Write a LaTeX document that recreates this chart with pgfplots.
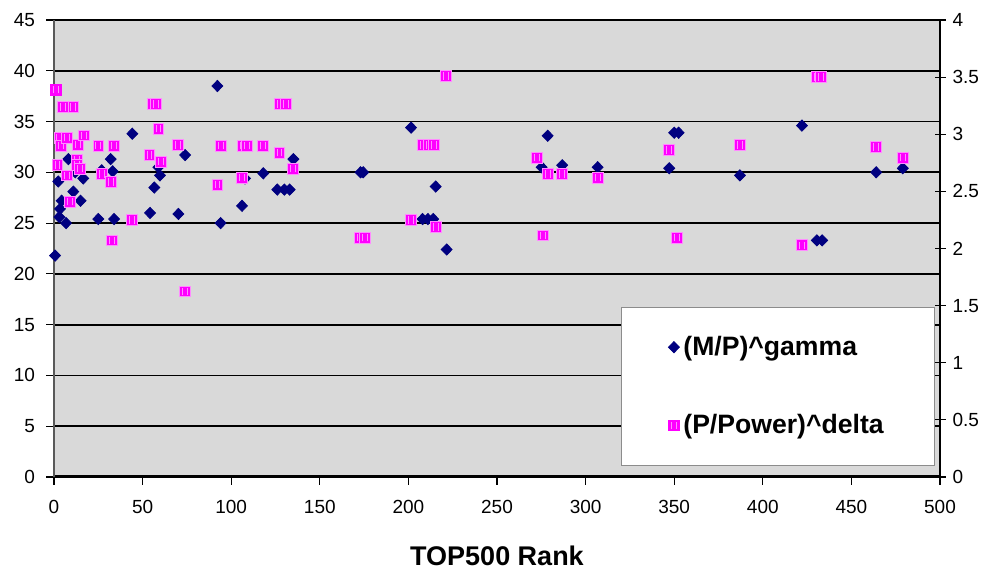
\documentclass[border=0pt]{standalone}
\usepackage{pgfplots}
\pgfplotsset{compat=1.18}
\usepackage{fontspec}
\setmainfont{Liberation Sans}

\definecolor{plotbg}{HTML}{D9D9D9}
\definecolor{navy}{HTML}{000080}
\definecolor{mag}{HTML}{FF00FF}
\colorlet{magin}{mag!45!white}

% excel-like patterned square
\pgfdeclareplotmark{xlsq}{%
  \pgfpathrectangle{\pgfqpoint{-\pgfplotmarksize}{-\pgfplotmarksize}}{\pgfqpoint{2\pgfplotmarksize}{2\pgfplotmarksize}}%
  \pgfusepathqfillstroke
  \pgfsetstrokecolor{magin}%
  \pgfsetlinewidth{0.4pt}%
  \pgfpathmoveto{\pgfqpoint{-0.45\pgfplotmarksize}{-0.7\pgfplotmarksize}}%
  \pgfpathlineto{\pgfqpoint{-0.45\pgfplotmarksize}{0.7\pgfplotmarksize}}%
  \pgfpathmoveto{\pgfqpoint{0.45\pgfplotmarksize}{-0.7\pgfplotmarksize}}%
  \pgfpathlineto{\pgfqpoint{0.45\pgfplotmarksize}{0.7\pgfplotmarksize}}%
  \pgfusepathqstroke
}

\begin{document}
\begin{tikzpicture}
\pgfplotsset{
  common/.style={
    width=443pt, height=228.5pt, scale only axis,
    xmin=0, xmax=500,
    tick label style={font=\fontsize{9.5}{11}\selectfont},
    /pgf/number format/assume math mode=true,
  },
  gam/.style={only marks, mark=diamond*, mark size=2.8pt, mark options={fill=navy, draw=navy, xscale=1.3}},
  del/.style={only marks, mark=xlsq, mark size=2.7pt, mark options={fill=mag, draw=mag}},
}
\begin{axis}[common,
  ymin=0, ymax=45, ytick={0,5,...,45},
  xtick={0,50,...,500},
  axis background/.style={fill=plotbg, draw=black!65, line width=1pt},
  ymajorgrids, grid style={black, line width=0.9pt},
  axis x line*=bottom, axis y line*=left,
  x axis line style={-, black, line width=1.5pt},
  y axis line style={-, black!65, line width=1pt},
  tick align=outside, major tick length=4pt,
  tick style={black, line width=0.6pt},
  yticklabel style={xshift=-2pt},
  xticklabel style={yshift=-4pt},
  xlabel={TOP500 Rank},
  xlabel style={font=\bfseries\fontsize{13.5}{16}\selectfont, at={(axis description cs:0.5,0)}, anchor=north, yshift=-31pt},
]
\addplot[gam] coordinates {
(0.6,21.8) (2.4,29.1) (3,25.6) (3.4,26.4) (4.3,27.2) (6.8,25.0) (8.1,31.3)
(10.9,28.1) (12,30.0) (15,27.2) (16.5,29.4) (25,25.4) (26.9,30.2) (32,31.3)
(33.1,30.1) (33.9,25.4) (44.2,33.8) (54.2,26.0) (56.6,28.5) (58.9,30.5)
(59.8,29.7) (70.2,25.9) (74,31.7) (92.2,38.5) (94,25.0) (106.1,26.7)
(107.8,29.4) (118.1,29.9) (126,28.3) (130,28.3) (133,28.3) (135.1,31.3)
(173,30.0) (174.5,30.0) (201.5,34.4) (208,25.4) (211,25.4) (214,25.4)
(215.4,28.6) (221.6,22.4) (275.2,30.5) (278.6,33.6) (286.8,30.7) (306.8,30.5)
(347.2,30.4) (350,33.9) (352.5,33.9) (387.1,29.7) (422.1,34.6) (430.5,23.3)
(433.5,23.3) (464,30.0) (479,30.4)
};
\end{axis}
\begin{axis}[common,
  ymin=0, ymax=4, ytick={0,0.5,1,1.5,2,2.5,3,3.5,4},
  axis y line*=right, axis x line=none,
  y axis line style={-, black, line width=1pt},
  tick align=center, major tick length=5.5pt,
  tick style={black, line width=0.6pt},
  legend style={at={(0.994,0.024)}, anchor=south east, draw=black!45, fill=white,
    font=\bfseries\fontsize{13.3}{15}\selectfont, inner xsep=23.3pt, inner ysep=12.5pt,
    row sep=24pt},
  legend cell align=left,
  legend image code/.code={%
    \draw[mark repeat=2, mark phase=2, #1] plot coordinates {(0cm,0cm) (0.13cm,0cm) (0.26cm,0cm)};},
]
\addlegendimage{gam}
\addlegendentry{(M/P)\textasciicircum gamma}
\addplot[del] coordinates {
(1,3.39) (1.9,2.73) (3,2.97) (3.8,2.90) (4.9,3.236) (7.2,2.97) (7.5,2.64)
(9,2.41) (10.9,3.236) (12.8,2.78) (12.8,2.73) (13.7,2.91) (14.7,2.70)
(16.9,2.99) (25,2.90) (26.9,2.65) (32,2.58) (32.9,2.07) (33.9,2.90) (44,2.25)
(53.8,2.82) (55.5,3.265) (57.3,3.265) (58.9,3.05) (60.2,2.76) (70.1,2.906)
(73.9,1.625) (92.2,2.56) (94,2.90) (105.9,2.62) (106.5,2.90) (109,2.90)
(118,2.90) (127.2,2.84) (127.5,3.265) (131,3.265) (135,2.70) (172.5,2.095)
(175.3,2.095) (201.5,2.25) (208,2.906) (211.5,2.906) (214.5,2.906)
(215.4,2.19) (221.2,3.51) (272.6,2.795) (275.8,2.115) (278.6,2.65)
(286.7,2.65) (306.8,2.62) (347.2,2.86) (351.4,2.095) (387.1,2.906)
(421.9,2.028) (430.5,3.50) (433,3.50) (464,2.886) (479,2.795)
};
\addlegendentry{(P/Power)\textasciicircum delta}
\coordinate (bl) at (rel axis cs:0,0);
\coordinate (tr) at (rel axis cs:1,1);
\end{axis}
\pgfresetboundingbox
\path ([xshift=-27pt,yshift=-46pt]bl) rectangle ([xshift=24.5pt,yshift=10pt]tr);
\end{tikzpicture}
\end{document}
